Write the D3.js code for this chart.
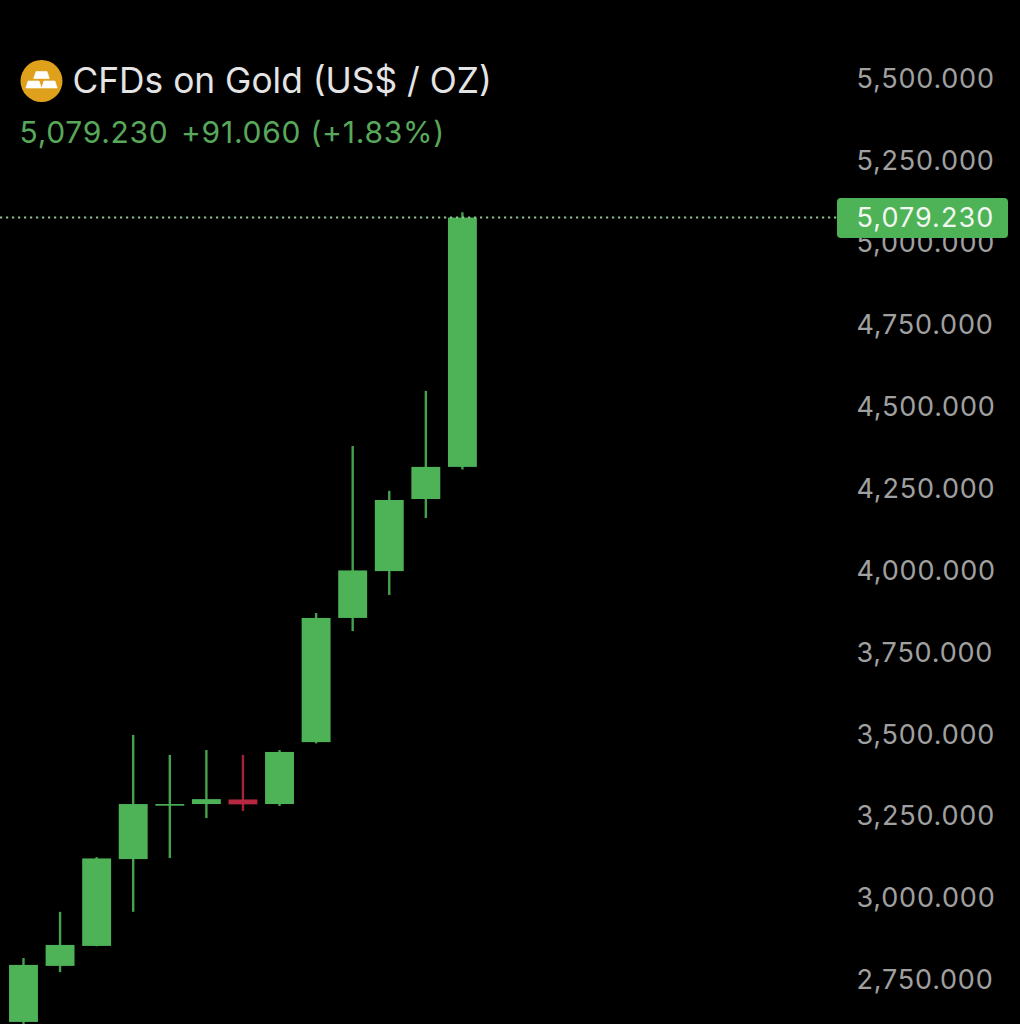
<!DOCTYPE html>
<html>
<head>
<meta charset="utf-8">
<script src="https://cdn.jsdelivr.net/npm/d3@7"></script>
<style>
  html, body { margin: 0; background: #000; }
  svg { display: block; }
  text { font-family: Inter, "Open Sans", sans-serif; }
</style>
</head>
<body>
<svg id="chart" width="1020" height="1024"></svg>
<script>
// monthly candles
var months = ['2025-01','2025-02','2025-03','2025-04','2025-05','2025-06','2025-07','2025-08','2025-09','2025-10','2025-11','2025-12','2026-01'];
var opens  = [2619, 2790, 2851, 3116, 3279, 3284, 3298, 3284, 3473, 3852, 3995, 4215, 4313];
var closes = [2793, 2854, 3118, 3284, 3284, 3299, 3283, 3443, 3852, 3997, 4212, 4313, 5074];
var highs  = [2814, 2955, 3122, 3495, 3434, 3449, 3434, 3449, 3867, 4377, 4240, 4545, 5090];
var lows   = [2613, 2771, 2850, 2955, 3119, 3241, 3263, 3278, 3469, 3812, 3922, 4157, 4305];
var yTicks = [2750, 3000, 3250, 3500, 3750, 4000, 4250, 4500, 4750, 5000, 5250, 5500];
var lastPrice = 5079.23;
var changeText = '+91.060 (+1.83%)';

var GREEN = '#4db356', RED = '#b5283f';
var fmt = d3.format(',.3f');
var svg = d3.select('#chart');

var x = d3.scaleBand().domain(months).range([5.2, 480.7]).padding(0);
var y = d3.scaleLinear().domain([2750, 5500]).range([979, 78]);
var bodyW = x.bandwidth() * 0.79;

var candles = months.map(function(m, i) {
  return { month: m, open: opens[i], close: closes[i], high: highs[i], low: lows[i] };
});
var color = function(d) { return d.close >= d.open ? GREEN : RED; };
var cx = function(d) { return x(d.month) + x.bandwidth() / 2; };
var lastY = y(closes[closes.length - 1]);

// y axis labels
var axis = d3.axisRight(y).tickValues(yTicks).tickFormat(fmt).tickSize(0).tickPadding(0);
var axisG = svg.append('g').attr('transform', 'translate(856.5,0)').call(axis);
axisG.select('.domain').remove();
axisG.selectAll('text')
  .attr('fill', '#a0a0a0')
  .style('font-size', '27px')
  .style('letter-spacing', '0.8px')
  .attr('dy', '0.36em');

// wicks then bodies
var g = svg.append('g');
g.selectAll('line.wick').data(candles).enter().append('line')
  .attr('class', 'wick')
  .attr('x1', cx).attr('x2', cx)
  .attr('y1', function(d) { return y(d.high); })
  .attr('y2', function(d) { return y(d.low); })
  .attr('stroke', color)
  .attr('stroke-opacity', 0.9)
  .attr('stroke-width', 2.4);

g.selectAll('rect.body').data(candles).enter().append('rect')
  .attr('class', 'body')
  .attr('x', function(d) { return cx(d) - bodyW / 2; })
  .attr('width', bodyW)
  .attr('y', function(d) { return y(Math.max(d.open, d.close)); })
  .attr('height', function(d) { return Math.max(1.5, Math.abs(y(d.open) - y(d.close))); })
  .attr('fill', color);

// last price line + tag
svg.append('line')
  .attr('x1', 0).attr('x2', 837)
  .attr('y1', lastY).attr('y2', lastY)
  .attr('stroke', '#8cc48f')
  .attr('stroke-width', 2)
  .attr('stroke-dasharray', '2.2 3.8');

svg.append('rect')
  .attr('x', 837).attr('y', lastY - 19.5)
  .attr('width', 171).attr('height', 40)
  .attr('rx', 4)
  .attr('fill', GREEN);

svg.append('text')
  .attr('x', 856.5).attr('y', lastY)
  .attr('dy', '0.36em')
  .attr('fill', '#f2f7f2')
  .style('font-size', '27px')
  .style('letter-spacing', '1.05px')
  .text(fmt(lastPrice));

// header
var icon = svg.append('g').attr('transform', 'translate(41.5,81)');
icon.append('circle').attr('r', 21).attr('fill', '#dfa11b');
var bar = [[-5.5, 0], [5.5, 0], [7.8, 7], [-7.8, 7]];
[[0, -9.5], [-7.9, 0], [7.9, 0]].forEach(function(p) {
  icon.append('polygon')
    .attr('points', bar.map(function(b) { return (b[0] + p[0]) + ',' + (b[1] + p[1]); }).join(' '))
    .attr('fill', '#fff')
    .attr('stroke', '#fff')
    .attr('stroke-width', 0.6)
    .attr('stroke-linejoin', 'round');
});

svg.append('text')
  .attr('x', 72.5).attr('y', 93)
  .attr('fill', '#e4e4e4')
  .style('font-size', '35.3px')
  .text('CFDs on Gold (US$ / OZ)');

svg.append('text')
  .attr('x', 19.5).attr('y', 143)
  .attr('fill', '#58a85c')
  .style('font-size', '30px')
  .style('letter-spacing', '0.7px')
  .text(fmt(lastPrice));

svg.append('text')
  .attr('x', 181).attr('y', 143)
  .attr('fill', '#58a85c')
  .style('font-size', '30px')
  .style('letter-spacing', '0.75px')
  .text(changeText);
</script>
</body>
</html>
